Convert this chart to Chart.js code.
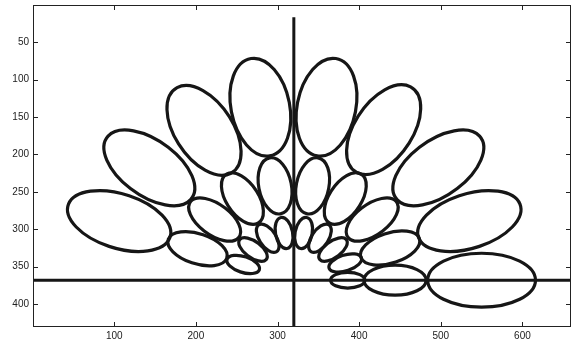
<!DOCTYPE html>
<html>
<head>
<meta charset="utf-8">
<script src="https://cdn.jsdelivr.net/npm/chart.js@4"></script>
<style>
  html, body { margin: 0; padding: 0; background: #fff; }
  #wrap { width: 574px; height: 344px; }
</style>
</head>
<body>
<div id="wrap"><canvas id="plot"></canvas></div>
<script>
// ray directions (degrees) of the petals, one entry per ray
var rayAngles = [0, 20, 40, 60, 80, 100, 120, 140, 160];

// outer ring centres
var ring1X = [550, 535, 497, 430, 360, 279, 210, 143, 106];
var ring1Y = [368, 289, 218, 167, 137, 137, 168, 218, 289];
// middle ring centres
var ring2X = [444, 438, 416, 383, 343, 297, 257, 223, 202];
var ring2Y = [368, 325, 287, 259, 242, 242, 259, 287, 326];
// inner ring centres
var ring3X = [386, 383, 368, 352, 332, 308, 288, 270, 258];
var ring3Y = [368, 345, 327, 312, 305, 305, 312, 327, 347];

// semi axes per ring (radial, tangential)
var ringA = [66, 38, 21];
var ringB = [36, 20, 10.5];

// cross lines
var vLineX = [320, 320];
var vLineY = [17, 430.5];
var hLineX = [0.5, 659.5];
var hLineY = [368, 368];

var xTicks = [100, 200, 300, 400, 500, 600];
var yTicks = [50, 100, 150, 200, 250, 300, 350, 400];

var ink = '#161616';

function ringPoints(xs, ys, ring) {
    var pts = [];
    for (var i = 0; i < xs.length; i++) {
        pts.push({x: xs[i], y: ys[i], a: ringA[ring], b: ringB[ring], ang: rayAngles[i]});
    }
    return pts;
}
function linePoints(xs, ys) {
    var pts = [];
    for (var i = 0; i < xs.length; i++) pts.push({x: xs[i], y: ys[i]});
    return pts;
}

// draws each petal as an ellipse around its centre point, sized through the scales
var ellipsePlugin = {
    id: 'ellipses',
    afterDatasetsDraw: function(chart) {
        var ctx = chart.ctx;
        var xs = chart.scales.x, ys = chart.scales.y;
        var kx = xs.getPixelForValue(1) - xs.getPixelForValue(0);
        var ky = ys.getPixelForValue(1) - ys.getPixelForValue(0);
        chart.data.datasets.forEach(function(ds, di) {
            if (!ds.petals) return;
            var meta = chart.getDatasetMeta(di);
            meta.data.forEach(function(el, i) {
                var p = ds.data[i];
                ctx.save();
                ctx.beginPath();
                ctx.translate(el.x, el.y);
                ctx.scale(kx, ky);
                ctx.ellipse(0, 0, p.a, p.b, -p.ang * Math.PI / 180, 0, Math.PI * 2);
                ctx.restore();
                ctx.save();
                ctx.lineWidth = 3.2;
                ctx.strokeStyle = ink;
                ctx.stroke();
                ctx.restore();
            });
        });
    }
};

// matlab style box with inward ticks
var boxPlugin = {
    id: 'box',
    afterDraw: function(chart) {
        var ctx = chart.ctx, a = chart.chartArea;
        var xs = chart.scales.x, ys = chart.scales.y;
        ctx.save();
        ctx.strokeStyle = '#222';
        ctx.lineWidth = 1;
        ctx.strokeRect(a.left + 0.5, a.top + 0.5, a.right - a.left - 1, a.bottom - a.top - 1);
        ctx.beginPath();
        xTicks.forEach(function(v) {
            var px = Math.round(xs.getPixelForValue(v)) + 0.5;
            ctx.moveTo(px, a.bottom); ctx.lineTo(px, a.bottom - 5);
            ctx.moveTo(px, a.top); ctx.lineTo(px, a.top + 5);
        });
        yTicks.forEach(function(v) {
            var py = Math.round(ys.getPixelForValue(v)) + 0.5;
            ctx.moveTo(a.left, py); ctx.lineTo(a.left + 5, py);
            ctx.moveTo(a.right, py); ctx.lineTo(a.right - 5, py);
        });
        ctx.stroke();
        ctx.restore();
    }
};

new Chart(document.getElementById('plot'), {
    type: 'scatter',
    data: {
        datasets: [
            {data: ringPoints(ring1X, ring1Y, 0), petals: true, pointRadius: 0},
            {data: ringPoints(ring2X, ring2Y, 1), petals: true, pointRadius: 0},
            {data: ringPoints(ring3X, ring3Y, 2), petals: true, pointRadius: 0},
            {data: linePoints(vLineX, vLineY), showLine: true, borderColor: ink, borderWidth: 3, pointRadius: 0},
            {data: linePoints(hLineX, hLineY), showLine: true, borderColor: ink, borderWidth: 3, pointRadius: 0}
        ]
    },
    options: {
        responsive: true,
        maintainAspectRatio: false,
        animation: false,
        events: [],
        layout: {padding: {top: 5, right: 3, left: 0, bottom: 0}},
        plugins: {legend: {display: false}, tooltip: {enabled: false}},
        scales: {
            x: {
                type: 'linear', min: 0.5, max: 659.5,
                afterBuildTicks: function(s) { s.ticks = xTicks.map(function(v) { return {value: v}; }); },
                afterFit: function(s) { s.height = 17; s.paddingLeft = 0; s.paddingRight = 0; },
                grid: {display: false, drawTicks: false},
                border: {display: false},
                ticks: {color: '#222', padding: 3, maxRotation: 0, font: {family: 'Liberation Sans, Arial, sans-serif', size: 10}}
            },
            y: {
                type: 'linear', reverse: true, min: 0.5, max: 430.5,
                afterBuildTicks: function(s) { s.ticks = yTicks.map(function(v) { return {value: v}; }); },
                afterFit: function(s) { s.width = 33; s.paddingTop = 0; s.paddingBottom = 0; },
                grid: {display: false, drawTicks: false},
                border: {display: false},
                ticks: {color: '#222', padding: 4, font: {family: 'Liberation Sans, Arial, sans-serif', size: 10}}
            }
        }
    },
    plugins: [ellipsePlugin, boxPlugin]
});
</script>
</body>
</html>
